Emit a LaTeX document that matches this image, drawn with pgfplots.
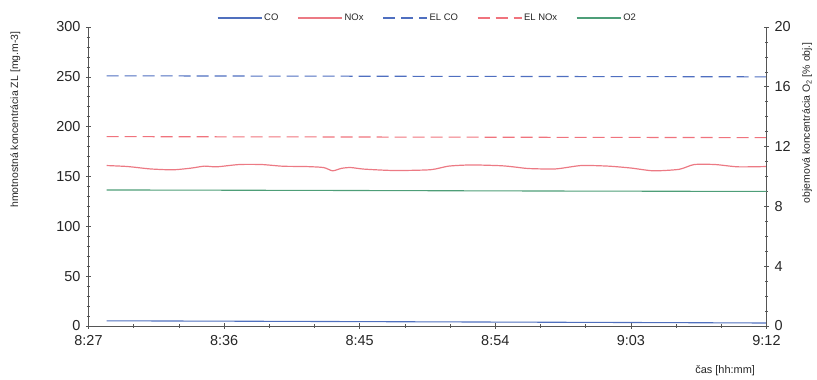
\documentclass[border=0pt]{standalone}
\usepackage{pgfplots}
\pgfplotsset{compat=1.18}
\usepackage{fontspec}
\setmainfont{Liberation Sans}
\definecolor{cob}{HTML}{5070BE}
\definecolor{noxr}{HTML}{EC7A84}
\definecolor{elco}{HTML}{4F6FC0}
\definecolor{elnox}{HTML}{F0737D}
\definecolor{o2g}{HTML}{4E9E78}
\definecolor{axc}{HTML}{555555}
\begin{document}
\begin{tikzpicture}
\path[use as bounding box] (-88.5bp,-54bp) rectangle (728.5bp,326bp);
\begin{axis}[
  at={(0,0)}, anchor=south west,
  scale only axis, width=678bp, height=299bp,
  xmin=0, xmax=45, ymin=0, ymax=300,
  axis y line*=left, axis x line*=bottom,
  xtick={0,9,18,27,36,45},
  xticklabels={8:27,8:36,8:45,8:54,9:03,9:12},
  minor x tick num=2,
  ytick={0,50,...,300}, minor y tick num=4,
  tick align=center,
  major tick length=5bp, minor tick length=3bp,
  tick style={color=axc, line width=0.6pt},
  axis line style={color=axc, line width=0.8pt},
  tick label style={font=\fontsize{14.5}{16}\selectfont, text=black!85},
  /pgf/number format/assume math mode=true,
  yticklabel style={xshift=-2bp},
  xticklabel style={yshift=-3bp},
  ylabel={hmotnostná koncentrácia ZL [mg.m-3]},
  ylabel style={at={(axis description cs:-0.108,0.69)}, anchor=center, font=\fontsize{10.5}{12}\selectfont, text=black!85},
  xlabel={čas [hh:mm]},
  xlabel style={at={(axis description cs:0.939,-0.15)}, anchor=center, font=\fontsize{11}{12}\selectfont, text=black!85},
  legend style={at={(axis description cs:0.5,1.03)}, anchor=center, draw=none, fill=none,
    font=\fontsize{9.5}{10}\selectfont, text=black!85,
    /tikz/every even column/.append style={column sep=17bp}},
  legend columns=5,
  legend image code/.code={\draw[#1] (0bp,0bp) -- (44bp,0bp);},
  clip=false,
]
\addplot[color=cob, line width=1.1pt] coordinates {
(1.2,5.2) (10,4.8) (20,4.3) (30,3.8) (40,3.3) (45,3.0)};
\addlegendentry{CO}
\addplot[color=noxr, line width=1.2pt, smooth, tension=0.4] coordinates {
(1.2,161) (2.6,160) (4.1,157.6) (5.6,156.7) (6.8,158.4) (7.7,160.4) (8.5,159.7)
(10.0,162) (11.5,162) (12.9,160.3) (14.4,160) (15.6,159) (16.2,155.7) (16.8,158.2)
(17.4,159) (18.3,157.4) (20.3,156) (22.7,156.8) (23.9,160.4) (25.4,161.6) (27.4,160.8)
(28.3,159.5) (29.2,158) (31.0,157.6) (32.7,161) (34.5,160.4) (36.0,158.5) (37.5,155.7)
(39.2,157.2) (40.2,162) (41.6,162) (43.1,159.7) (45,160)};
\addlegendentry{NOx}
\addplot[color=elco, line width=1.1pt, dash pattern=on 12bp off 6bp] coordinates {
(1.2,251) (45,250)};
\addlegendentry{EL CO}
\addplot[color=elnox, line width=1.1pt, dash pattern=on 12bp off 6bp] coordinates {
(1.2,190) (45,189)};
\addlegendentry{EL NOx}
\addlegendimage{color=o2g, line width=1.1pt}
\addlegendentry{O2}
\end{axis}
\begin{axis}[
  at={(0,0)}, anchor=south west,
  scale only axis, width=678bp, height=299bp,
  xmin=0, xmax=45, ymin=0, ymax=20,
  axis y line*=right, axis x line=none,
  ytick={0,4,...,20}, minor y tick num=3,
  tick align=center,
  major tick length=5bp, minor tick length=3bp,
  tick style={color=axc, line width=0.6pt},
  axis line style={color=axc, line width=0.8pt},
  tick label style={font=\fontsize{14.5}{16}\selectfont, text=black!85},
  /pgf/number format/assume math mode=true,
  yticklabel style={xshift=2bp},
  ylabel={objemová koncentrácia O\textsubscript{2} [\% obj.]},
  ylabel style={at={(axis description cs:1.06,0.68)}, anchor=center, font=\fontsize{10.5}{12}\selectfont, text=black!85},
]
\addplot[color=o2g, line width=1.1pt] coordinates {
(1.2,9.1) (15,9.07) (30,9.03) (45,9.0)};
\end{axis}
\end{tikzpicture}
\end{document}
